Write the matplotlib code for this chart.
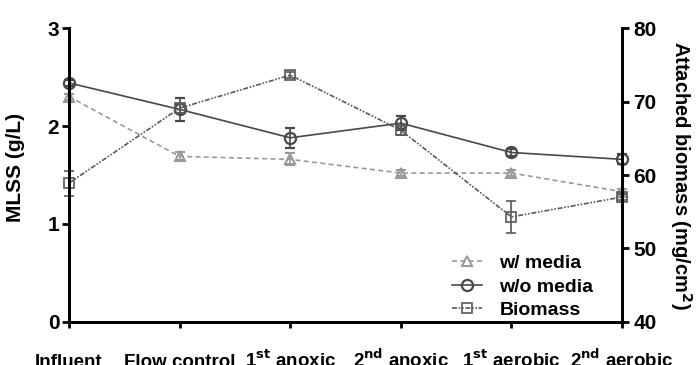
import matplotlib.pyplot as plt
from matplotlib.lines import Line2D

plt.rcParams['font.family'] = ['Liberation Sans', 'DejaVu Sans']
plt.rcParams['font.weight'] = 'bold'
plt.rcParams['mathtext.default'] = 'bf'

stages = ['Influent', 'Flow control', '1$^{st}$ anoxic', '2$^{nd}$ anoxic',
          '1$^{st}$ aerobic', '2$^{nd}$ aerobic']

with_media = [2.30, 1.69, 1.66, 1.52, 1.52, 1.33]
with_media_err = [0.03, 0.04, 0.06, 0.03, 0.03, 0.03]

without_media = [2.44, 2.17, 1.88, 2.03, 1.73, 1.66]
without_media_err = [0.03, 0.12, 0.10, 0.07, 0.04, 0.05]

biomass = [58.9, 69.1, 73.6, 66.1, 54.3, 57.0]
biomass_err = [1.7, 0.6, 0.4, 0.6, 2.2, 0.4]

x = list(range(len(stages)))

fig = plt.figure(figsize=(7, 3.65), dpi=100)
ax = fig.add_axes([0.0986, 0.118, 0.79, 0.805])
ax2 = ax.twinx()

styles = [
    dict(color='#9a9a9a', ls=(0, (3, 2)), marker='^', ms=7.5, mew=1.5),
    dict(color='#484848', ls='-', marker='o', ms=8, mew=1.6),
    dict(color='#585858', ls=(0, (3, 1, 1, 1, 1, 1)), marker='s', ms=7.5, mew=1.2),
]

for a, y, e, st in [(ax, with_media, with_media_err, styles[0]),
                    (ax, without_media, without_media_err, styles[1]),
                    (ax2, biomass, biomass_err, styles[2])]:
    _, caps, bars = a.errorbar(x, y, yerr=e, lw=1.2, mfc='none', capsize=3.5,
                               elinewidth=1.2, clip_on=False, **st)
    for c in caps:
        c.set_clip_on(False)
    for b in bars:
        b.set_clip_on(False)

ax.set_xlim(0, 5)
ax.set_ylim(0, 3)
ax.set_yticks([0, 1, 2, 3])
ax2.set_ylim(40, 80)
ax2.set_yticks([40, 50, 60, 70, 80])
ax.set_xticks(x)
ax.set_xticklabels(stages)

for a in (ax, ax2):
    for s in a.spines.values():
        s.set_linewidth(2)
    a.spines['top'].set_visible(False)
    a.tick_params(width=2, length=5, labelsize=15, pad=2)
ax2.tick_params(pad=3)
ax.tick_params(axis='x', length=4.5, pad=28, labelsize=13.5)
for lbl in ax.get_xticklabels():
    lbl.set_verticalalignment('baseline')

ax.set_ylabel('MLSS (g/L)', fontsize=15, fontweight='bold')
ax.yaxis.set_label_coords(-0.08, 0.527)
ax2.set_ylabel('Attached biomass (mg/cm$^2$)', fontsize=14.5, fontweight='bold',
               rotation=270, labelpad=27)

handles = [Line2D([], [], lw=1.2, mfc='none', **st) for st in styles]
ax.legend(handles, ['w/ media', 'w/o media', 'Biomass'], loc='lower right',
          bbox_to_anchor=(0.98, -0.05), frameon=False, fontsize=14,
          handlelength=1.55, labelspacing=0.3, handletextpad=0.9)

fig.savefig('out.png', dpi=100)
